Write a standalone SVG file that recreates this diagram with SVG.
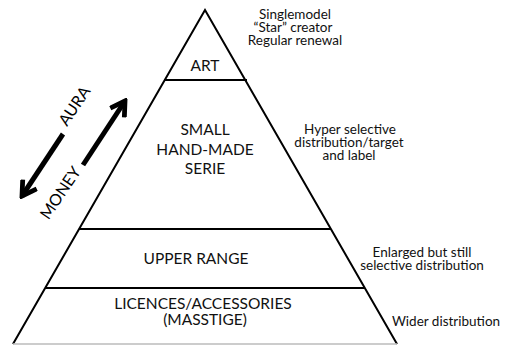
<svg xmlns="http://www.w3.org/2000/svg" width="507" height="345" viewBox="0 0 507 345">
<style>
.edge{stroke:#000;stroke-width:2;fill:none}
.lbl{font-family:Lato,"Open Sans",sans-serif;font-size:15.5px;fill:#111;text-anchor:middle}
.note{font-family:Lato,"Open Sans",sans-serif;font-size:13.5px;fill:#111;text-anchor:middle}
.axis{font-family:Lato,"Open Sans",sans-serif;font-size:16px;fill:#000;text-anchor:middle}
.arr{stroke:#000;stroke-width:5;fill:none}
</style>
<defs>
<marker id="chev" viewBox="0 0 10 10" refX="8.5" refY="5" markerWidth="20" markerHeight="20" markerUnits="userSpaceOnUse" orient="auto">
<path d="M1.5,0.8 L8.5,5 L1.5,9.2" stroke="#000" stroke-width="2.4" fill="none" stroke-linejoin="miter"/>
</marker>
</defs>
<g id="pyramid">
<path class="edge" d="M13,344 L205,10 L397,344"/>
<line x1="13" y1="344" x2="397" y2="344" stroke="#bbb" stroke-width="1.5"/>
</g>
<g id="art">
<line class="edge" x1="164" y1="80" x2="247" y2="80"/>
<text class="lbl" x="205" y="71">ART</text>
</g>
<g id="small">
<line class="edge" x1="79" y1="229" x2="331" y2="229"/>
<text class="lbl" x="205" y="135">SMALL<tspan x="205" y="155">HAND-MADE</tspan><tspan x="205" y="174">SERIE</tspan></text>
</g>
<g id="upper">
<line class="edge" x1="45" y1="288" x2="365" y2="288"/>
<text class="lbl" x="196" y="264">UPPER RANGE</text>
</g>
<g id="licences">
<text class="lbl" x="203" y="309">LICENCES/ACCESSORIES<tspan x="205" y="325">(MASSTIGE)</tspan></text>
</g>
<g id="notes">
<text class="note" x="295" y="19">Singlemodel<tspan x="293" y="32">“Star” creator</tspan><tspan x="295" y="45">Regular renewal</tspan></text>
<text class="note" x="350" y="134">Hyper selective<tspan x="349" y="147">distribution/target</tspan><tspan x="349" y="160">and label</tspan></text>
<text class="note" x="422" y="257">Enlarged but still<tspan x="422" y="270">selective distribution</tspan></text>
<text class="note" x="446" y="326">Wider distribution</text>
</g>
<g id="connectors">
<line class="arr" x1="63" y1="134" x2="22" y2="196" marker-end="url(#chev)"/>
<line class="arr" x1="83" y1="165" x2="125" y2="101" marker-end="url(#chev)"/>
<text class="axis" transform="translate(79,109) rotate(-56)">AURA</text>
<text class="axis" transform="translate(65,196) rotate(-56)">MONEY</text>
</g>
</svg>
